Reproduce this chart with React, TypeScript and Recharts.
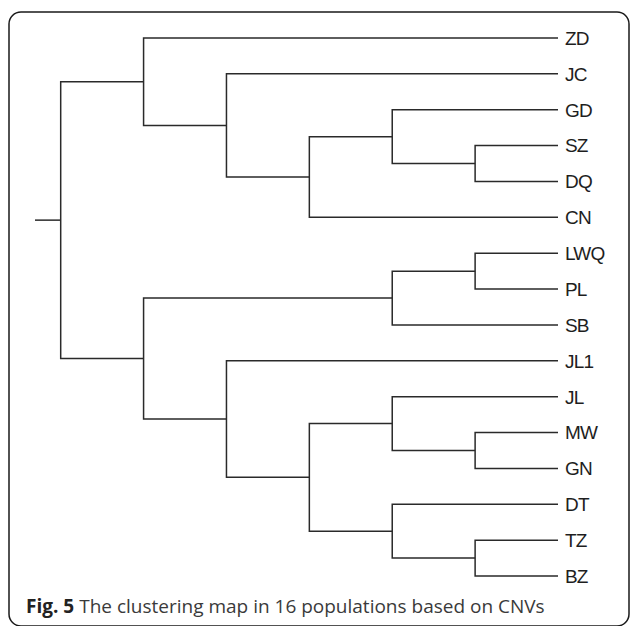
import React from 'react';
import { ScatterChart, Scatter, XAxis, YAxis } from 'recharts';

// Leaf populations, top to bottom
const leaves = ['ZD', 'JC', 'GD', 'SZ', 'DQ', 'CN', 'LWQ', 'PL', 'SB', 'JL1', 'JL', 'MW', 'GN', 'DT', 'TZ', 'BZ'];

// Internal cluster nodes (merge order), their two children and their merge heights
const nodeIds = ['n1', 'n2', 'n3', 'n4', 'n5', 'n6', 'n7', 'n8', 'n9', 'n10', 'n11', 'n12', 'n13', 'n14', 'root'];
const nodeLeft = ['SZ', 'GD', 'n2', 'JC', 'ZD', 'LWQ', 'n6', 'MW', 'JL', 'TZ', 'DT', 'n9', 'JL1', 'n7', 'n5'];
const nodeRight = ['DQ', 'n1', 'CN', 'n3', 'n4', 'PL', 'SB', 'GN', 'n8', 'BZ', 'n10', 'n11', 'n12', 'n13', 'n14'];
const nodeHeights = [1, 2, 3, 4, 5, 1, 2, 1, 2, 1, 2, 3, 4, 5, 6];
const rootStem = 0.31;

const caption = 'The clustering map in 16 populations based on CNVs';
const captionLead = 'Fig. 5';

type Pos = { h: number; y: number };

const pos: Record<string, Pos> = {};
leaves.forEach((name, i) => {
  pos[name] = { h: 0, y: i };
});
nodeIds.forEach((id, i) => {
  const a = pos[nodeLeft[i]];
  const b = pos[nodeRight[i]];
  pos[id] = { h: nodeHeights[i], y: (a.y + b.y) / 2 };
});

const elbows = nodeIds.map((id, i) => {
  const a = pos[nodeLeft[i]];
  const b = pos[nodeRight[i]];
  const n = pos[id];
  return [
    { h: a.h, y: a.y },
    { h: n.h, y: a.y },
    { h: n.h, y: b.y },
    { h: b.h, y: b.y },
  ];
});

const rootPos = pos['root'];
const stemData = [
  { h: rootPos.h, y: rootPos.y },
  { h: rootPos.h + rootStem, y: rootPos.y },
];
const leafData = leaves.map((name) => ({ h: 0, y: pos[name].y, name }));
const xMax = rootPos.h + rootStem;

const LINE = { stroke: '#2a2a2a', strokeWidth: 1.5, fill: 'none' };
const noShape = () => <g />;

const LeafLabel = (props: any) => {
  const { cx, cy, payload } = props;
  return (
    <text
      x={cx + 7}
      y={cy}
      dy="0.36em"
      fontFamily="'Liberation Sans', Arial, sans-serif"
      fontSize={19}
      letterSpacing={-0.8}
      fill="#1e1e1e"
    >
      {payload.name}
    </text>
  );
};

export default function App() {
  return (
    <div style={{ position: 'absolute', left: 0, top: 0, width: 630, height: 626, background: '#fff', overflow: 'hidden' }}>
      <ScatterChart width={630} height={626} margin={{ top: 38, right: 72, bottom: 50, left: 35 }}>
        <XAxis type="number" dataKey="h" domain={[0, xMax]} reversed hide />
        <YAxis type="number" dataKey="y" domain={[0, leaves.length - 1]} reversed hide />
        {elbows.map((pts, i) => (
          <Scatter
            key={nodeIds[i]}
            data={pts}
            line={LINE}
            shape={noShape}
            isAnimationActive={false}
          />
        ))}
        <Scatter data={stemData} line={LINE} shape={noShape} isAnimationActive={false} />
        <Scatter data={leafData} shape={LeafLabel} isAnimationActive={false} />
      </ScatterChart>
      <svg width={630} height={626} style={{ position: 'absolute', left: 0, top: 0, pointerEvents: 'none' }}>
        <rect x={9} y={12} width={620} height={614} rx={12} ry={12} fill="none" stroke="#1a1a1a" strokeWidth={1.5} />
        <text x={26} y={613} fontFamily="'Open Sans', 'Noto Sans', sans-serif" fontSize={19} fill="#3a3a3a">
          <tspan fontWeight="bold" fill="#222">{captionLead}</tspan>
          <tspan dx={5}>{caption}</tspan>
        </text>
      </svg>
    </div>
  );
}
